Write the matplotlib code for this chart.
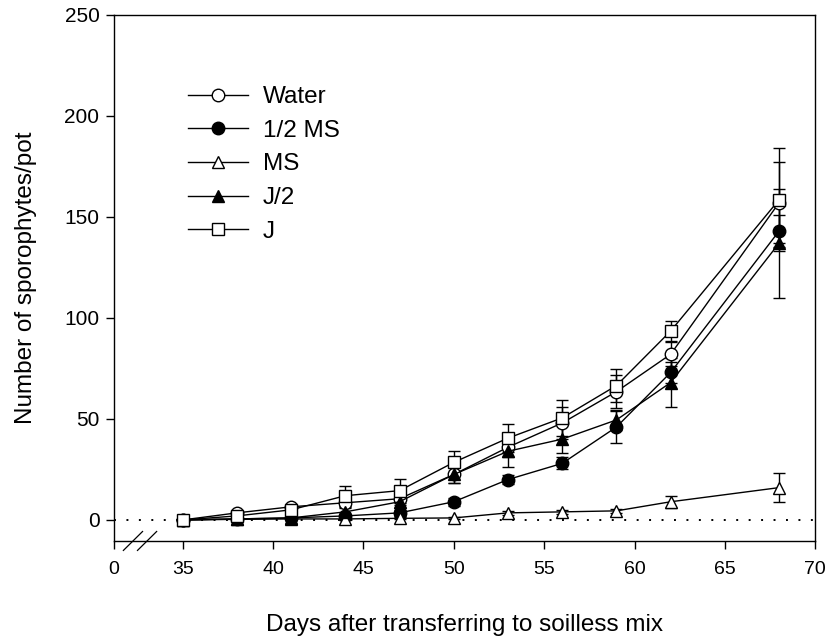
import numpy as np
import matplotlib
matplotlib.use("Agg")
import matplotlib.pyplot as plt

plt.rcParams["font.family"] = ["Liberation Sans", "DejaVu Sans"]

# ── Data ───────────────────────────────────────────────────────────────────────
days = [35, 38, 41, 44, 47, 50, 53, 56, 59, 62, 68]

water      = [0, 3.5, 6.5, 8.5, 10.5, 22.5, 36, 48, 63.5, 82, 157]
water_err  = [0, 1, 1, 2, 3, 4, 5, 8, 8, 6, 20]
half_ms     = [0, 0.5, 1, 2, 3.5, 9, 20, 28, 46, 73, 143]
half_ms_err = [0, 0.5, 0.5, 1, 1.5, 2, 2, 3, 8, 5, 8]
ms      = [0, 0.3, 0.5, 0.5, 0.8, 1, 3.5, 4, 4.5, 9, 16]
ms_err  = [0, 0.2, 0.3, 0.3, 0.5, 0.5, 1, 1, 1, 3, 7]
j_half     = [0, 0.5, 1, 4, 9, 22.5, 34, 40, 49.5, 68, 137]
j_half_err = [0, 0.5, 1, 2, 3, 4, 8, 7, 5, 12, 27]
j_full     = [0, 2, 5, 12, 14.5, 28.5, 40.5, 50.5, 66.5, 93.5, 158.5]
j_full_err = [0, 1, 2, 5, 6, 5.5, 7, 9, 8, 5, 25.5]

x_ticks = [35, 40, 45, 50, 55, 60, 65, 70]
y_ticks = [0, 50, 100, 150, 200, 250]
BREAK_POS = 31.2   # where the "0" tick sits on the broken axis

series = [
    ("Water",  water,   water_err,   "o", "white"),
    ("1/2 MS", half_ms, half_ms_err, "o", "black"),
    ("MS",     ms,      ms_err,      "^", "white"),
    ("J/2",    j_half,  j_half_err,  "^", "black"),
    ("J",      j_full,  j_full_err,  "s", "white"),
]

# ── Figure ─────────────────────────────────────────────────────────────────────
fig = plt.figure(figsize=(8.26, 6.44), dpi=100)
ax = fig.add_axes([0.138, 0.16, 0.849, 0.817])

ax.axhline(0, color="black", lw=1.4, ls=(0, (1, 5.4)), zorder=1)

handles = []
for label, y, err, mk, fc in series:
    cont = ax.errorbar(days, y, yerr=err, color="black", lw=1, marker=mk,
                       markersize=9 if mk != "s" else 8.5, markerfacecolor=fc,
                       markeredgecolor="black", markeredgewidth=1,
                       ecolor="black", elinewidth=1, capsize=4, capthick=1,
                       label=label, zorder=3)
    handles.append(cont[0])

ax.set_xlim(BREAK_POS, 70)
ax.set_ylim(-10.4, 250)
ax.set_xticks([BREAK_POS] + x_ticks)
ax.set_xticklabels(["0"] + [str(t) for t in x_ticks])
ax.set_yticks(y_ticks)
ax.tick_params(direction="out", length=5.5, width=1, labelsize=14,
               top=False, right=False)
ax.tick_params(axis="x", pad=9)
ax.tick_params(axis="y", pad=5, labelsize=15)
for s in ax.spines.values():
    s.set_linewidth(1)

# axis break marks "//"
x0, x1 = ax.get_xlim()
for xs in (31.72, 32.5):
    ax.plot([(xs - x0) / (x1 - x0), (xs + 1.06 - x0) / (x1 - x0)],
            [-0.018, 0.018], transform=ax.transAxes, color="black",
            lw=0.9, clip_on=False)

ax.set_xlabel("Days after transferring to soilless mix", fontsize=17.5, labelpad=26)
ax.set_ylabel("Number of sporophytes/pot", fontsize=17.5, labelpad=20)

ax.legend(handles=handles, labels=[s[0] for s in series],
          loc="upper left", bbox_to_anchor=(0.091, 0.883), frameon=False,
          fontsize=17.5, handlelength=2.47, handletextpad=0.62, labelspacing=0.48,
          borderaxespad=0)

plt.savefig("out.png", dpi=100)
